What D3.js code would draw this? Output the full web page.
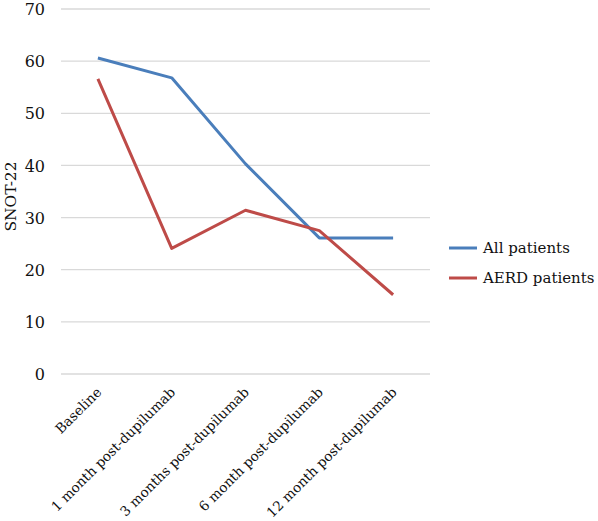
<!DOCTYPE html>
<html><head><meta charset="utf-8">
<script src="https://cdn.jsdelivr.net/npm/d3@7"></script>
<style>body{margin:0;background:#fff}svg{display:block}</style>
</head><body>
<script>
const categories = ["Baseline","1 month post-dupilumab","3 months post-dupilumab","6 month post-dupilumab","12 month post-dupilumab"];
const allPatients = [60.6, 56.8, 40.3, 26.1, 26.1];
const aerdPatients = [56.6, 24.1, 31.4, 27.5, 15.2];
const yTicks = [0,10,20,30,40,50,60,70];
const seriesNames = ["All patients","AERD patients"];
const colors = ["#4a7ebb","#be4b48"];

const W=598,H=521;
const m={left:61,right:430,top:9,bottom:374};
const font="'DejaVu Serif', serif";
const svg=d3.select("body").append("svg").attr("width",W).attr("height",H);
const x=d3.scalePoint().domain(categories).range([m.left,m.right]).padding(0.5);
const y=d3.scaleLinear().domain([0,70]).range([m.bottom,m.top]);

// gridlines
svg.append("g").selectAll("line").data(yTicks).join("line")
  .attr("x1",m.left).attr("x2",m.right).attr("y1",d=>y(d)).attr("y2",d=>y(d))
  .attr("stroke","#d9d9d9").attr("stroke-width",1.3);

// y axis labels
const ya=svg.append("g").attr("transform",`translate(${m.left-16},0)`)
  .call(d3.axisLeft(y).tickValues(yTicks).tickSize(0).tickPadding(0));
ya.select(".domain").remove();
ya.selectAll("text").attr("font-family",font).attr("font-size",16).attr("fill","#111").attr("dy","0.35em");

// x axis labels
const xa=svg.append("g").attr("transform",`translate(0,${m.bottom})`)
  .call(d3.axisBottom(x).tickSize(0).tickPadding(0));
xa.select(".domain").remove();
xa.selectAll("text").attr("font-family",font).attr("font-size",13.6).attr("fill","#111")
  .attr("text-anchor","end").attr("dy",0)
  .attr("transform","translate(4,19) rotate(-45)");

// y title
svg.append("text").attr("transform",`translate(16,${(m.top+m.bottom)/2+5}) rotate(-90)`)
  .attr("text-anchor","middle").attr("font-family",font).attr("font-size",15.5).attr("fill","#111").text("SNOT-22");

const line=d3.line().x((d,i)=>x(categories[i])).y(d=>y(d));
[allPatients,aerdPatients].forEach((s,k)=>{
  svg.append("path").datum(s).attr("d",line).attr("fill","none")
    .attr("stroke",colors[k]).attr("stroke-width",3).attr("stroke-linejoin","round");
});

// legend
const lg=svg.append("g");
seriesNames.forEach((n,k)=>{
  const ly=248+k*30;
  lg.append("line").attr("x1",449).attr("x2",477).attr("y1",ly).attr("y2",ly)
    .attr("stroke",colors[k]).attr("stroke-width",3);
  lg.append("text").attr("x",483).attr("y",ly).attr("dy","0.35em")
    .attr("font-family",font).attr("font-size",15).attr("fill","#111").text(n);
});
</script>
</body></html>
